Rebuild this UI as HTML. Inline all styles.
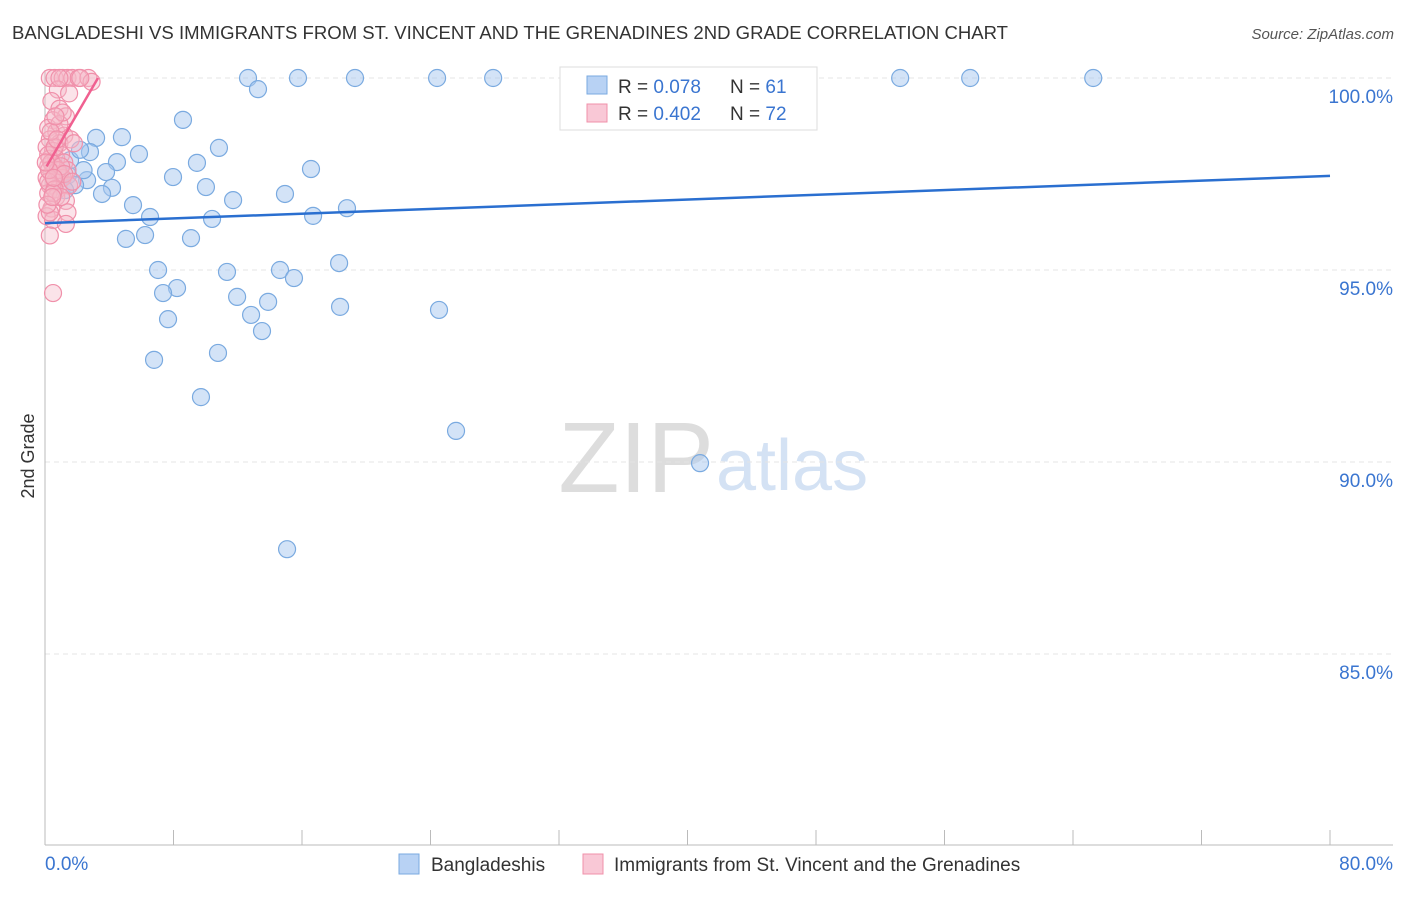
<!DOCTYPE html>
<html><head><meta charset="utf-8"><style>
body{margin:0;background:#fff;font-family:"Liberation Sans",sans-serif;}
svg text{font-family:"Liberation Sans",sans-serif;}
</style></head><body>
<svg width="1406" height="892" id="c">
<text x="12" y="39" font-size="18" fill="#333" textLength="996" lengthAdjust="spacingAndGlyphs">BANGLADESHI VS IMMIGRANTS FROM ST. VINCENT AND THE GRENADINES 2ND GRADE CORRELATION CHART</text>
<text x="1394" y="39" font-size="15" fill="#555" font-style="italic" text-anchor="end">Source: ZipAtlas.com</text>
<text x="34" y="456" font-size="18" fill="#333" transform="rotate(-90 34 456)" text-anchor="middle">2nd Grade</text>
<text x="714" y="492" font-size="100" fill="#ddd" text-anchor="end" font-family="Liberation Serif">ZIP</text>
<text x="716" y="490" font-size="72" fill="#d4e2f4">atlas</text>
<g id="grid"></g><g id="pts"></g><g id="lines"></g>
<g>
<rect x="560" y="67" width="257" height="63" fill="#fff" stroke="#ddd"/>
<rect x="587" y="76" width="20" height="18" fill="#b8d2f4" stroke="#7aaae0"/>
<text x="618" y="93" font-size="19" fill="#333">R = <tspan fill="#3a75d0">0.078</tspan></text>
<text x="730" y="93" font-size="19" fill="#333">N = <tspan fill="#3a75d0">61</tspan></text>
<rect x="587" y="104" width="20" height="18" fill="#f9c8d6" stroke="#f090aa"/>
<text x="618" y="120" font-size="19" fill="#333">R = <tspan fill="#3a75d0">0.402</tspan></text>
<text x="730" y="120" font-size="19" fill="#333">N = <tspan fill="#3a75d0">72</tspan></text>
</g>
<g>
<rect x="399" y="854" width="20" height="20" fill="#b8d2f4" stroke="#7aaae0"/>
<text x="431" y="871" font-size="19" fill="#333">Bangladeshis</text>
<rect x="583" y="854" width="20" height="20" fill="#f9c8d6" stroke="#f090aa"/>
<text x="614" y="871" font-size="19" fill="#333">Immigrants from St. Vincent and the Grenadines</text>
</g>
<text x="45" y="870" font-size="19" fill="#3a75d0">0.0%</text>
<text x="1393" y="870" font-size="19" fill="#3a75d0" text-anchor="end">80.0%</text>
</svg>
<script>
const blueX=[12.64,15.75,19.30,24.41,27.90,53.24,57.60,65.26,13.26,8.59,3.18,4.79,10.83,2.80,5.85,4.48,9.46,16.56,3.80,7.97,2.62,1.43,4.17,10.02,3.55,14.94,11.71,5.48,18.80,6.54,10.40,16.69,5.04,6.23,9.09,7.04,11.33,14.63,18.31,15.50,8.22,7.35,11.96,13.89,18.37,24.53,12.83,7.66,13.51,10.77,6.79,9.71,25.59,40.78,15.07,0.93,1.87,1.56,2.18,1.25,2.4];
const blueY=[100,100,100,100,100,100,100,100,99.71,98.91,98.44,98.46,98.18,98.07,98.02,97.81,97.79,97.63,97.55,97.42,97.34,97.47,97.14,97.16,96.98,96.98,96.82,96.69,96.61,96.38,96.33,96.41,95.81,95.91,95.83,95.00,94.95,95.00,95.18,94.79,94.53,94.40,94.30,94.17,94.04,93.96,93.83,93.72,93.41,92.84,92.66,91.69,90.81,89.97,87.73,97.47,97.21,97.86,98.13,97.08,97.6];
const pinkX=[0.3,0.6,1.1,1.4,1.7,2.1,2.7,2.9,0.8,1.5,0.4,0.9,1.3,0.5,0.2,0.7,1.2,0.3,0.9,1.6,0.1,0.5,1.0,0.3,0.7,1.2,0.2,0.6,1.4,0.4,0.9,0.1,0.6,1.1,0.3,0.8,1.5,0.2,0.7,1.3,0.4,1.4,0.1,0.5,1.3,0.3,0.5,0.2,0.4,0.8,0.2,0.6,1.0,0.3,0.9,1.1,0.6,1.0,0.5,0.15,1.2,0.35,0.75,1.7,0.25,0.55,0.45,1.8,2.2,0.9,0.05,0.65];
const pinkY=[100,100,100,100,100,100,100,99.9,99.7,99.6,99.4,99.2,99.0,98.9,98.7,98.6,98.5,98.4,98.3,98.4,98.2,98.1,98.0,97.9,97.9,97.8,97.7,97.7,97.6,97.5,97.5,97.4,97.3,97.4,97.2,97.1,97.2,97.0,96.9,96.8,96.6,96.5,96.4,96.3,96.2,95.9,94.4,98.0,97.8,97.6,97.3,97.1,96.9,96.5,98.8,99.1,98.2,97.7,97.0,96.7,97.5,98.6,98.4,97.3,97.6,97.4,96.9,98.3,100,100,97.8,99.0];
const yTicks=[100,95,90,85];
const xTicks=[0,8,16,24,32,40,48,56,64,72,80];
const blueTrend=[[0,96.22],[80,97.45]];
const pinkTrend=[[0.1,97.7],[3.3,100]];
const X=v=>45+v*(1285/80), Y=v=>78+(100-v)*38.4;
const NS='http://www.w3.org/2000/svg';
function mk(t,a,p){const e=document.createElementNS(NS,t);for(const k in a)e.setAttribute(k,a[k]);p.appendChild(e);return e;}
const g=document.getElementById('grid'),pts=document.getElementById('pts'),ln=document.getElementById('lines');
yTicks.forEach(v=>{const l=mk('line',{x1:45,x2:1393,y1:Y(v),y2:Y(v),stroke:'#e4e4e4','stroke-dasharray':'5,4'},g);


const t=mk('text',{x:1393,y:Y(v)+25,'font-size':19,fill:'#3a75d0','text-anchor':'end'},g);t.textContent=v.toFixed(1)+'%';

});
const ax=mk('line',{x1:45,x2:1393,y1:845,y2:845,stroke:'#bbb'},g);


const ay=mk('line',{x1:45,x2:45,y1:70,y2:845,stroke:'#bbb'},g);


xTicks.forEach(v=>{const l=mk('line',{x1:X(v),x2:X(v),y1:830,y2:845,stroke:'#bbb'},g);

});
blueX.forEach((x,i)=>{const c=mk('circle',{cx:X(x),cy:Y(blueY[i]),r:8.5,fill:'rgba(168,200,240,0.5)',stroke:'#7aaae0','stroke-width':1.2},pts);

});
pinkX.forEach((x,i)=>{const c=mk('circle',{cx:X(x),cy:Y(pinkY[i]),r:8.5,fill:'rgba(245,184,200,0.4)',stroke:'#f090aa','stroke-width':1.2},pts);

});
const bl=mk('line',{x1:X(blueTrend[0][0]),y1:Y(blueTrend[0][1]),x2:X(blueTrend[1][0]),y2:Y(blueTrend[1][1]),stroke:'#2a6fd0','stroke-width':2.5},ln);


const pl=mk('line',{x1:X(pinkTrend[0][0]),y1:Y(pinkTrend[0][1]),x2:X(pinkTrend[1][0]),y2:Y(pinkTrend[1][1]),stroke:'#f06090','stroke-width':2.5},ln);


</script>
</body></html>
